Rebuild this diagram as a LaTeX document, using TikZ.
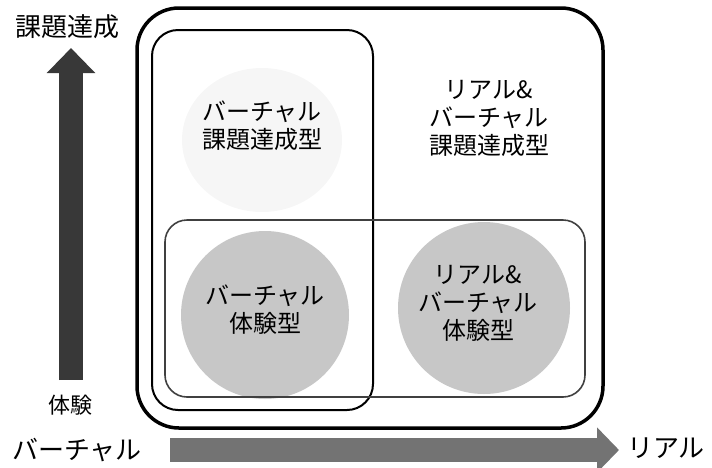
\documentclass[tikz,border=0pt]{standalone}
\usepackage{fontspec}
\setmainfont{Noto Sans CJK JP}
\usetikzlibrary{arrows.meta}
\definecolor{darkarrow}{gray}{0.22}
\definecolor{lightarrow}{gray}{0.45}
\definecolor{blob}{gray}{0.78}
\definecolor{faint}{gray}{0.965}
\tikzset{
  lbl/.style={font=\fontsize{24}{28}\selectfont, align=center, inner sep=0pt},
  axislbl/.style={font=\fontsize{26}{30}\selectfont, inner sep=0pt},
  box/.style={draw, rounded corners=#1},
}
\begin{document}
\begin{tikzpicture}[x=1pt,y=-1pt]
\useasboundingbox (0,0) rectangle (712,467);
% faint blob in upper area
\fill[faint] (262,140) ellipse (80 and 72);
% circles
\fill[blob] (265,315) circle (84);
\fill[blob] (484,308) circle (86);
% boxes
\draw[box=42, line width=3.5pt] (137,8) rectangle (603,428);
\draw[box=26, line width=2pt] (152,30) rectangle (373,410);
\draw[box=22, line width=1.6pt, black!75] (165,220) rectangle (585,397);
% texts
\node[lbl] (vt) at (262,126) {バーチャル\\課題達成型};
\node[lbl] (rvt) at (489,118) {リアル\&\\バーチャル\\課題達成型};
\node[lbl] (ve) at (265,310) {バーチャル\\体験型};
\node[lbl] (rve) at (478,303) {リアル\&\\バーチャル\\体験型};
% axes
\coordinate (vbot) at (71,380);
\coordinate (vtop) at (71,48);
\coordinate (hl) at (170,450);
\coordinate (hr) at (619,450);
\draw[darkarrow, line width=24pt, -{Triangle[width=47pt,length=25pt]}] (vbot) -- (vtop);
\draw[lightarrow, line width=24pt, -{Triangle[width=44pt,length=22pt]}] (hl) -- (hr);
\node[axislbl] (kadai) at (67,27) {課題達成};
\node[axislbl, font=\fontsize{22}{26}\selectfont] (taiken) at (70,405) {体験};
\node[axislbl] (virt) at (77,450) {バーチャル};
\node[axislbl] (real) at (666,448) {リアル};
\end{tikzpicture}
\end{document}
